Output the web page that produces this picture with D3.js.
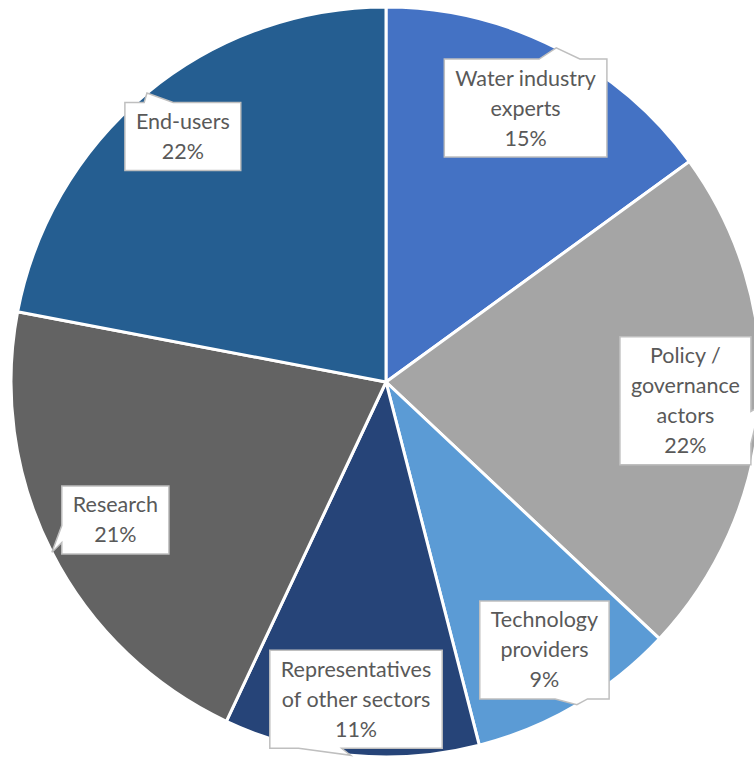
<!DOCTYPE html>
<html lang="en">
<head>
  <meta charset="UTF-8">
  <title>Stakeholder pie</title>
  <script src="https://cdn.jsdelivr.net/npm/d3@7"></script>
  <style>
    body { margin: 0; background: #fff; }
    text { font-family: Lato, "Open Sans", sans-serif; fill: #595959; }
  </style>
</head>
<body>
  <script>
    // data
    const categories = ["Water industry experts", "Policy / governance actors", "Technology providers",
                        "Representatives of other sectors", "Research", "End-users"];
    const values = [15, 22, 9, 11, 21, 22];
    const labelLines = [["Water industry", "experts"], ["Policy /", "governance", "actors"],
                        ["Technology", "providers"], ["Representatives", "of other sectors"],
                        ["Research"], ["End-users"]];
    const colors = ["#4472C4", "#A5A5A5", "#5B9BD5", "#264478", "#636363", "#255E91"];
    // how far out each callout sits, as a share of the radius
    const labelDist = [0.82, 0.80, 0.83, 0.85, 0.81, 0.85];

    const w = 754, h = 758;
    const cx = 386, cy = 382, r = 375;
    const lineH = 30, fontSize = 21.5;

    const svg = d3.select("body").append("svg")
      .attr("width", w).attr("height", h);

    const pie = d3.pie().sort(null).value(d => d);
    const arcs = pie(values);
    const arc = d3.arc().innerRadius(0).outerRadius(r);

    const g = svg.append("g").attr("transform", `translate(${cx},${cy})`);

    g.selectAll("path.slice")
      .data(arcs)
      .enter()
      .append("path")
      .attr("class", "slice")
      .attr("d", arc)
      .attr("fill", (d, i) => colors[i])
      .attr("stroke", "#fff")
      .attr("stroke-width", 3)
      .attr("stroke-linejoin", "round");

    function calloutPath(x0, y0, bw, bh, tx, ty) {
      const mx = x0 + bw / 2, my = y0 + bh / 2;
      const dx = tx - mx, dy = ty - my;
      const x1 = x0 + bw, y1 = y0 + bh;
      const fx = dx > 0 ? [7, 10] : [2, 5];
      const fy = dy > 0 ? [7, 10] : [2, 5];
      const xa = x0 + bw * fx[0] / 12, xb = x0 + bw * fx[1] / 12;
      const ya = y0 + bh * fy[0] / 12, yb = y0 + bh * fy[1] / 12;
      const vert = Math.abs(dy) > Math.abs(dx) * bh / bw;
      let p = `M${x0},${y0}`;
      if (vert && dy < 0) p += `L${xa},${y0}L${tx},${ty}L${xb},${y0}`;
      p += `L${x1},${y0}`;
      if (!vert && dx > 0) p += `L${x1},${ya}L${tx},${ty}L${x1},${yb}`;
      p += `L${x1},${y1}`;
      if (vert && dy > 0) p += `L${xb},${y1}L${tx},${ty}L${xa},${y1}`;
      p += `L${x0},${y1}`;
      if (!vert && dx < 0) p += `L${x0},${yb}L${tx},${ty}L${x0},${ya}`;
      return p + "Z";
    }

    arcs.forEach((d, i) => {
      const a = (d.startAngle + d.endAngle) / 2;
      const lx = labelDist[i] * r * Math.sin(a);
      const ly = -labelDist[i] * r * Math.cos(a);
      const tx = r * Math.sin(a), ty = -r * Math.cos(a);
      const lines = labelLines[i].concat([d3.format(".0%")(values[i] / 100)]);

      const lg = g.append("g");
      const box = lg.append("path");
      const t = lg.append("text")
        .attr("text-anchor", "middle")
        .style("font-size", fontSize + "px");
      const top = ly - lines.length * lineH / 2;
      lines.forEach((s, j) => {
        t.append("tspan")
          .attr("x", lx)
          .attr("y", top + j * lineH + lineH / 2)
          .attr("dy", "0.35em")
          .text(s);
      });
      let maxW = 0;
      t.selectAll("tspan").each(function() {
        maxW = Math.max(maxW, this.getComputedTextLength());
      });
      const bw = maxW + 22, bh = lines.length * lineH + 8;
      box.attr("d", calloutPath(lx - bw / 2, ly - bh / 2, bw, bh, tx, ty))
        .attr("fill", "#fff")
        .attr("stroke", "#BFBFBF")
        .attr("stroke-width", 1.5);
    });
  </script>
</body>
</html>
